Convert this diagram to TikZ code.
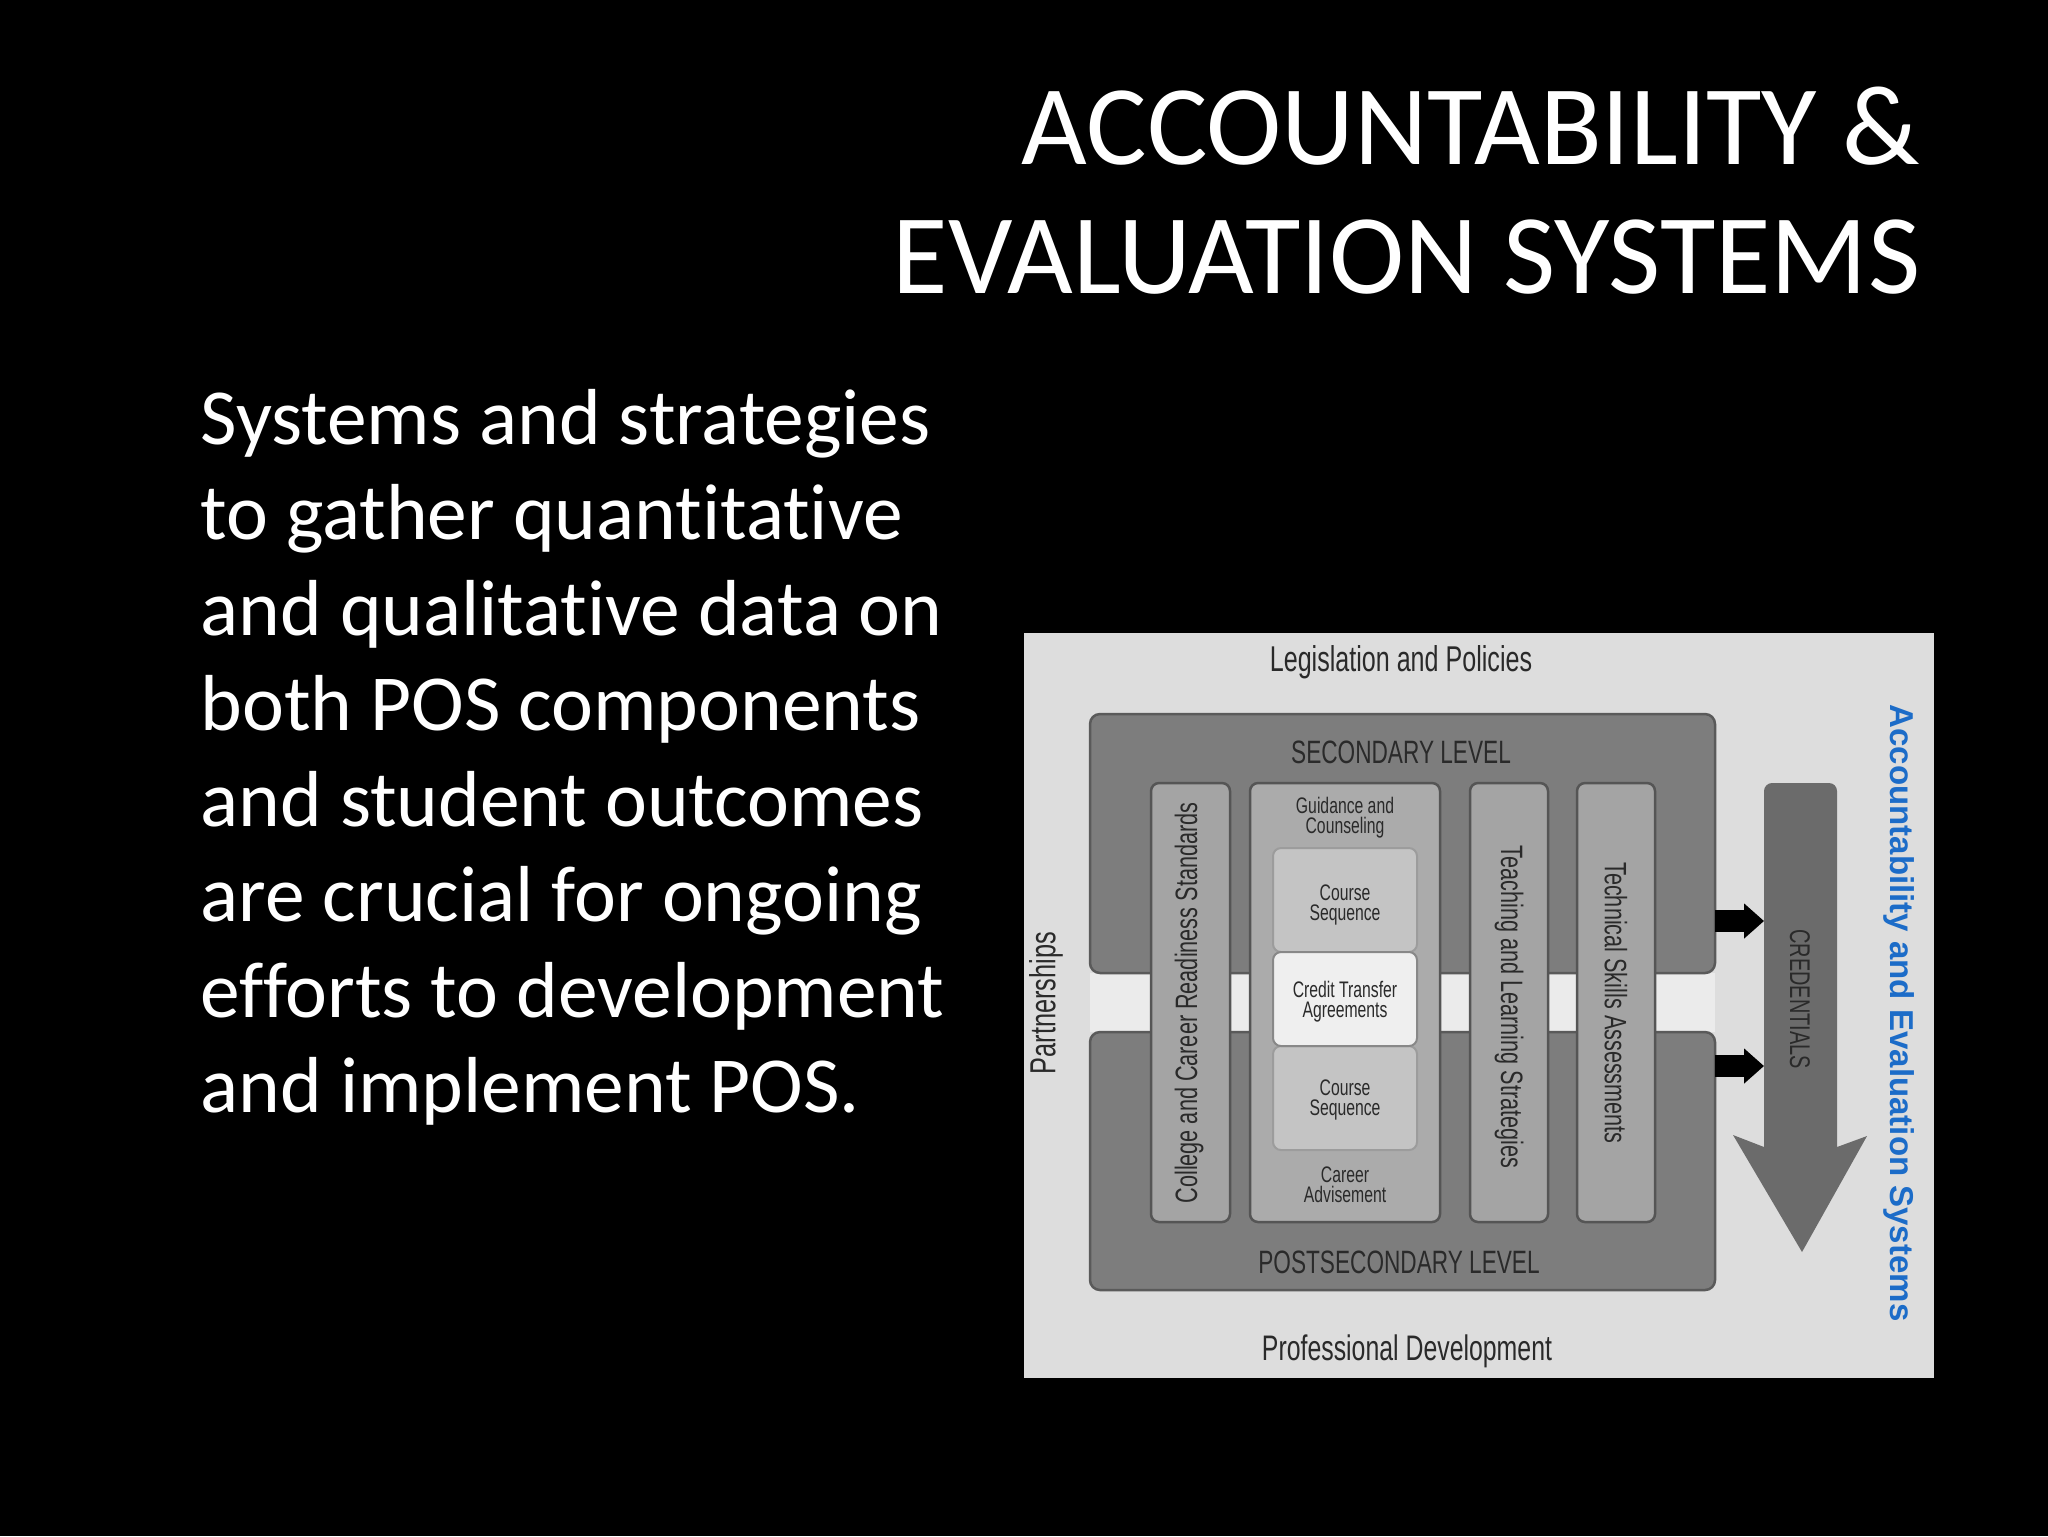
\documentclass[tikz,border=0pt]{standalone}
\usepackage{fontspec}
\setmainfont{Carlito}[Ligatures=NoCommon]
\newfontfamily\cond[FakeStretch=0.7]{Liberation Sans}
\newfontfamily\arialb{Liberation Sans}
\usetikzlibrary{arrows.meta}
\definecolor{framebg}{HTML}{DDDDDD}
\definecolor{gapbg}{HTML}{EBEBEB}
\definecolor{levelfill}{HTML}{7D7D7D}
\definecolor{levelborder}{HTML}{5A5A5A}
\definecolor{colfill}{HTML}{A4A4A4}
\definecolor{colfilltwo}{HTML}{ABABAB}
\definecolor{colborder}{HTML}{555555}
\definecolor{csfill}{HTML}{C4C4C4}
\definecolor{csborder}{HTML}{9C9C9C}
\definecolor{ctafill}{HTML}{EFEFEF}
\definecolor{credfill}{HTML}{6B6B6B}
\definecolor{dtext}{HTML}{2A2A2A}
\definecolor{aesblue}{RGB}{28,108,200}
\tikzset{
  slidetitle/.style={text=white, inner sep=0pt, anchor=base east, font=\fontsize{32.3}{36}\selectfont},
  bodyline/.style={text=white, inner sep=0pt, anchor=base west, font=\fontsize{22.6}{27}\selectfont},
  levelbox/.style={draw=levelborder, fill=levelfill, line width=0.25mm, rounded corners=1mm, inner sep=0pt},
  colbox/.style={draw=colborder, fill=colfill, line width=0.25mm, rounded corners=0.8mm, inner sep=0pt, minimum height=43.9mm},
  csbox/.style={draw=csborder, fill=csfill, line width=0.2mm, rounded corners=0.8mm, inner sep=0pt, minimum width=14.4mm},
  dlabel/.style={text=dtext, inner sep=0pt, font=\cond\fontsize{9.2}{10}\selectfont},
  coltext/.style={text=dtext, inner sep=0pt, font=\cond\fontsize{8.8}{10}\selectfont},
  smalltext/.style={text=dtext, inner sep=0pt, align=center, font=\cond\fontsize{6.4}{5.7}\selectfont},
  blkarrow/.style={draw=black, line width=2.2mm, -{Triangle[length=2mm,width=3.4mm]}},
}
\begin{document}
\begin{tikzpicture}[x=0.1mm,y=-0.1mm]
\useasboundingbox (0,0) rectangle (2048,1536);
\fill[black] (0,0) rectangle (2048,1536);

% title
\node[slidetitle] (t1) at (1921,164) {ACCOUNTABILITY \&};
\node[slidetitle] (t2) at (1921,293) {EVALUATION SYSTEMS};

% body
\node[bodyline] (b1) at (200,444) {Systems and strategies};
\node[bodyline] (b2) at (200,539.5) {to gather quantitative};
\node[bodyline] (b3) at (200,635) {and qualitative data on};
\node[bodyline] (b4) at (200,730.5) {both POS components};
\node[bodyline] (b5) at (200,826) {and student outcomes};
\node[bodyline] (b6) at (200,921.5) {are crucial for ongoing};
\node[bodyline] (b7) at (200,1017) {efforts to development};
\node[bodyline] (b8) at (200,1112.5) {and implement POS.};

% diagram frame
\fill[framebg] (1024,633) rectangle (1934,1378);
\fill[gapbg] (1090,973) rectangle (1715,1032);

\node[dlabel, font=\cond\fontsize{10.2}{11}\selectfont] (leg) at (1401,662) {Legislation and Policies};
\node[dlabel, font=\cond\fontsize{10.1}{11}\selectfont] (prof) at (1407,1351) {Professional Development};
\node[dlabel, rotate=90, font=\cond\fontsize{10.3}{11}\selectfont] (part) at (1046,1003) {Partnerships};

% level boxes
\node[levelbox, minimum width=62.5mm, minimum height=25.9mm] (sec) at (1402.5,843.5) {};
\node[levelbox, minimum width=62.5mm, minimum height=25.8mm] (post) at (1402.5,1161) {};
\node[dlabel] (seclab) at (1401,752) {SECONDARY LEVEL};
\node[dlabel] (postlab) at (1399,1262) {POSTSECONDARY LEVEL};

% columns
\node[colbox, minimum width=7.9mm] (col1) at (1190.5,1002.5) {};
\node[colbox, fill=colfilltwo, minimum width=19mm] (col2) at (1345,1002.5) {};
\node[colbox, minimum width=7.8mm] (col3) at (1509,1002.5) {};
\node[colbox, minimum width=7.8mm] (col4) at (1616,1002.5) {};

\node[coltext, rotate=90] (col1t) at (1189,1003) {College and Career Readiness Standards};
\node[coltext, rotate=-90] (col3t) at (1509,1007) {Teaching and Learning Strategies};
\node[coltext, rotate=-90] (col4t) at (1616,1003) {Technical Skills Assessments};

% inner boxes
\node[csbox, minimum height=10.4mm] (cs1) at (1345,900) {};
\node[csbox, minimum height=10.4mm] (cs2) at (1345,1098) {};
\node[csbox, fill=ctafill, draw=colborder!70, minimum height=9.4mm] (cta) at (1345,999) {};

\node[smalltext] (guid) at (1345,818) {Guidance and\\Counseling};
\node[smalltext] (cs1t) at (1345,905) {Course\\Sequence};
\node[smalltext] (ctat) at (1345,1002) {Credit Transfer\\Agreements};
\node[smalltext] (cs2t) at (1345,1100) {Course\\Sequence};
\node[smalltext] (care) at (1345,1185) {Career\\Advisement};

% credentials arrow
\fill[credfill] (1764,1147) [rounded corners=0.8mm] -- (1764,783) -- (1837,783) [sharp corners] -- (1837,1147) -- (1867,1136) -- (1802,1252) -- (1733,1135) -- cycle;
\node[coltext, rotate=-90, font=\cond\fontsize{8.1}{9}\selectfont] (cred) at (1800,999) {CREDENTIALS};

% black arrows
\coordinate (a1s) at (1715,921);
\coordinate (a1e) at (1764,921);
\coordinate (a2s) at (1715,1066);
\coordinate (a2e) at (1764,1066);
\draw[blkarrow] (a1s) -- (a1e);
\draw[blkarrow] (a2s) -- (a2e);

% side label
\node[rotate=-90, inner sep=0pt, text=aesblue, font=\arialb\bfseries\fontsize{9.4}{10}\selectfont] (aes) at (1899,1013) {Accountability and Evaluation Systems};
\end{tikzpicture}
\end{document}
